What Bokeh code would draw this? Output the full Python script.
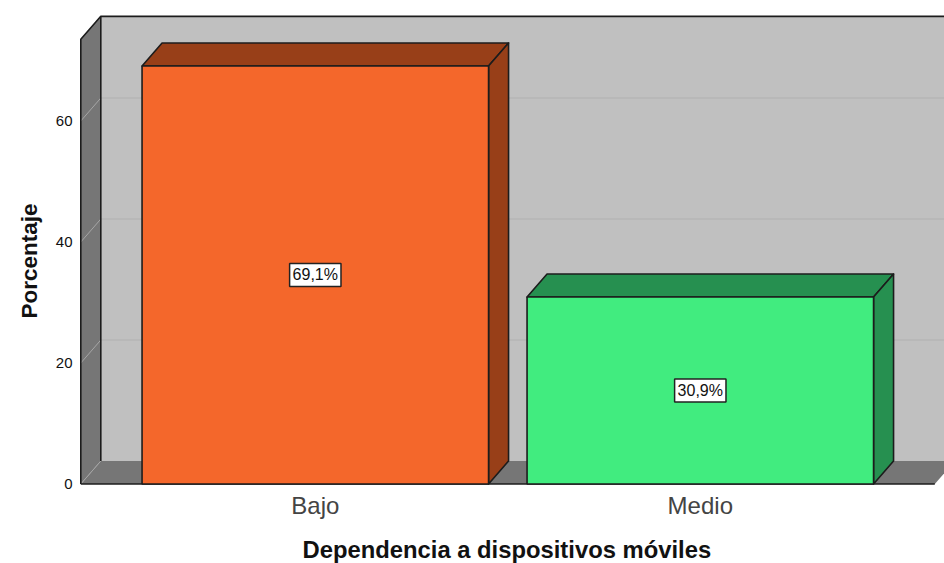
from bokeh.plotting import figure
from bokeh.models import Range1d, FixedTicker, Title
from bokeh.core.properties import value
from bokeh.embed import file_html
from bokeh.resources import INLINE

categories = ["Bajo", "Medio"]
percentages = [69.1, 30.9]
labels = ["69,1%", "30,9%"]
y_ticks = [0, 20, 40, 60]
grid_values = [20, 40, 60]
x_title = "Dependencia a dispositivos móviles"
y_title = "Porcentaje"
bar_colors = ["#F4672B", "#41EC7F"]
side_colors = ["#983F18", "#269050"]

PX_X = 385.0
PX_Y = 6.05
BAR_W = 346.5 / PX_X
DX = 20 / PX_X
DY = 23 / PX_Y
X_L = (81 - 315.5) / PX_X
X_R = (935 - 315.5) / PX_X
Y_TOP = 73.5
EDGE = "#1c1c1c"
WALL = "#C0C0C0"
DARK = "#767676"

W, H = 944, 563
FRAME_L, FRAME_B = 79, 487
p = figure(width=W, height=H, output_backend="svg", toolbar_location=None,
           frame_width=W - FRAME_L, frame_height=480,
           x_range=Range1d((FRAME_L - 315.5 + 0.7) / PX_X, (944 - 315.5 + 0.7) / PX_X),
           y_range=Range1d(-3.5 / PX_Y, 476.5 / PX_Y),
           min_border_left=FRAME_L, min_border_right=0, min_border_top=7, min_border_bottom=76)
p.outline_line_color = None
p.grid.visible = False
p.background_fill_color = "white"
p.border_fill_color = "white"

# back wall
far = X_R + DX + 1
p.patch([X_L + DX, far, far, X_L + DX], [DY, DY, Y_TOP + DY, Y_TOP + DY], fill_color=WALL, line_color=None)
# left wall and floor
p.patch([X_L, X_L, X_L + DX, X_L + DX], [0, Y_TOP, Y_TOP + DY, DY], fill_color=DARK, line_color=None)
p.patch([X_L, X_R, X_R + DX, X_L + DX], [0, 0, DY, DY], fill_color=DARK, line_color=None)

# gridlines
for g in grid_values:
    p.line([X_L + DX, far], [g + DY, g + DY], line_color="#B0B0B0", line_width=1)
    p.line([X_L, X_L + DX], [g, g + DY], line_color="#A6A6A6", line_width=1)
p.line([X_L, X_L + DX], [0, DY], line_color="#A6A6A6", line_width=1)

# frame edges
p.line([X_L, X_L, X_L + DX, far], [0, Y_TOP, Y_TOP + DY, Y_TOP + DY], line_color=EDGE, line_width=1.6)
p.line([X_L + DX, X_L + DX], [DY, Y_TOP + DY], line_color=EDGE, line_width=1.6)
p.line([X_L, X_R], [0, 0], line_color=EDGE, line_width=1.6)

# bars
for i, v in enumerate(percentages):
    x0, x1 = i - BAR_W / 2, i + BAR_W / 2
    p.patch([x0, x1, x1 + DX, x0 + DX], [v, v, v + DY, v + DY], fill_color=side_colors[i],
            line_color=EDGE, line_width=1.6, line_join="round")
    p.patch([x1, x1 + DX, x1 + DX, x1], [0, DY, v + DY, v], fill_color=side_colors[i],
            line_color=EDGE, line_width=1.6, line_join="round")
    p.quad(left=[x0], right=[x1], bottom=[0], top=[v], fill_color=bar_colors[i],
           line_color=EDGE, line_width=1.6)

p.text(x=[0, 1], y=[v / 2 for v in percentages], text=labels, text_align="center", text_baseline="middle",
       text_font=value("Liberation Sans"), text_font_size="16px", text_color="#111111",
       background_fill_color="white", border_line_color="#222222", border_line_width=1.5,
       padding=3)

# axes
xa = p.xaxis[0]
xa.ticker = FixedTicker(ticks=[0, 1])
xa.major_label_overrides = {i: c for i, c in enumerate(categories)}
xa.major_label_text_font = "Liberation Sans"
xa.major_label_text_font_size = "24px"
xa.major_label_text_color = "#444444"
xa.major_label_standoff = 4
xa.axis_line_color = None
xa.major_tick_line_color = None
xa.minor_tick_line_color = None
xa.major_tick_in = 0
xa.major_tick_out = 0

ya = p.yaxis[0]
ya.ticker = FixedTicker(ticks=y_ticks)
ya.major_label_text_font = "Liberation Sans"
ya.major_label_text_font_size = "15px"
ya.major_label_text_color = "#111111"
ya.major_label_standoff = 7
ya.axis_line_color = None
ya.major_tick_line_color = None
ya.minor_tick_line_color = None
ya.major_tick_in = 0
ya.major_tick_out = 0

p.add_layout(Title(text=x_title, align="left", offset=223, standoff=24, text_font="Liberation Sans",
                   text_font_style="bold", text_font_size="23.8px", text_color="#111111"), "below")
p.add_layout(Title(text=y_title, align="left", offset=169, standoff=17, vertical_align="top",
                   text_font="Liberation Sans", text_font_style="bold", text_font_size="22.5px",
                   text_color="#111111"), "left")

open("out.html", "w").write(file_html(p, INLINE))
